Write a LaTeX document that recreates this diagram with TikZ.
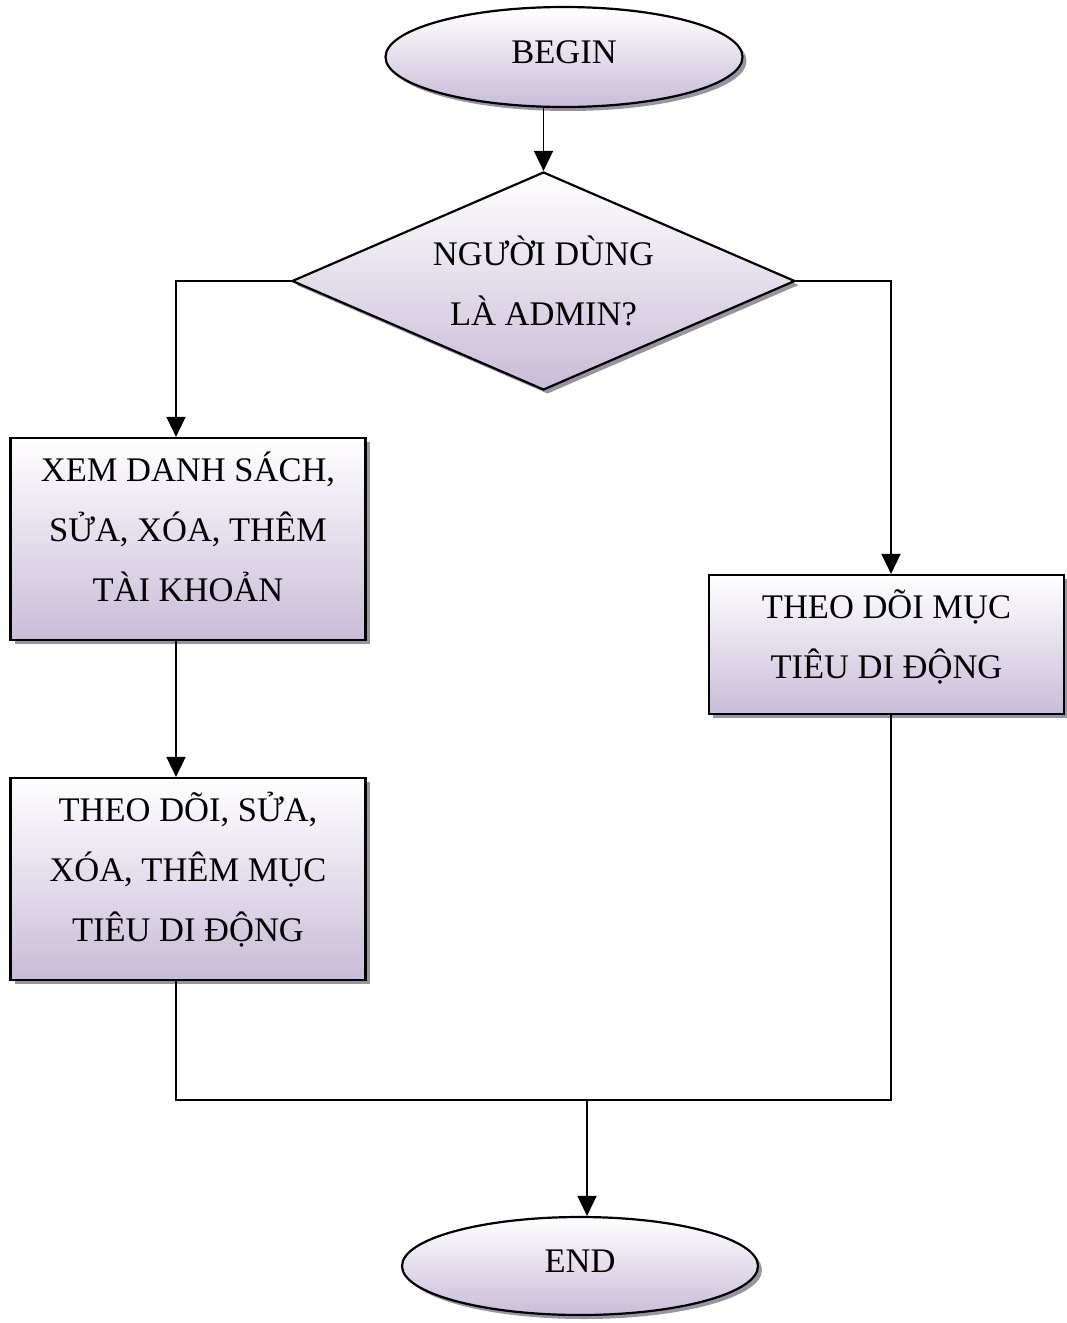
\documentclass[tikz,border=0pt]{standalone}
\usepackage{fontspec}
\setmainfont{Liberation Serif}
\usetikzlibrary{shapes.geometric,shadows,arrows.meta}
\definecolor{lav}{RGB}{201,188,216}
\definecolor{shadowgray}{RGB}{140,138,150}
\begin{document}
\begin{tikzpicture}[x=1pt,y=-1pt,
  base/.style={draw=black, line width=2.2pt, top color=white, bottom color=lav,
    drop shadow={shadow xshift=4pt, shadow yshift=-4pt, fill=shadowgray, opacity=0.9},
    font=\fontsize{34.5}{60}\selectfont, align=center, inner sep=0pt},
  terminal/.style={base, ellipse, minimum width=357pt, minimum height=100pt,
    text height=12pt, text depth=0pt},
  decision/.style={base, diamond, aspect=2.3, minimum width=503pt, minimum height=218pt},
  process/.style={base, rectangle, minimum width=355pt},
  threeline/.style={process, minimum height=202pt, text height=125pt, text depth=0pt},
  twoline/.style={process, minimum height=139pt, text height=68pt, text depth=0pt},
  flow/.style={line width=1.7pt, -{Triangle[length=20pt,width=19pt]}},
  link/.style={line width=1.7pt}]
\useasboundingbox (0,0) rectangle (1066,1323);

% column positions of the vertical connectors
\coordinate (lcol) at (176,0);
\coordinate (rcol) at (891,0);
\coordinate (merge) at (587,1100);

\node[terminal] (begin) at (564,57) {BEGIN};
\node[decision] (ask) at (543.5,281) {NGƯỜI DÙNG\\LÀ ADMIN?};
\node[threeline] (accounts) at (188,539)
  {XEM DANH SÁCH,\\SỬA, XÓA, THÊM\\TÀI KHOẢN};
\node[threeline] (targets) at (188,879)
  {THEO DÕI, SỬA,\\XÓA, THÊM MỤC\\TIÊU DI ĐỘNG};
\node[twoline] (track) at (886.5,644.5)
  {THEO DÕI MỤC\\TIÊU DI ĐỘNG};
\node[terminal, minimum width=356pt, minimum height=98pt] (end) at (580,1266) {END};

\draw[flow] (begin.south -| ask.north) -- (ask.north);
\draw[flow] (ask.west) -| (lcol |- accounts.north);
\draw[flow] (ask.east) -| (rcol |- track.north);
\draw[flow] (lcol |- accounts.south) -- (lcol |- targets.north);
\draw[link] (lcol |- targets.south) -- (lcol |- merge) -- (rcol |- merge) -- (rcol |- track.south);
\draw[flow] (merge) -- (merge |- end.north);
\end{tikzpicture}
\end{document}
